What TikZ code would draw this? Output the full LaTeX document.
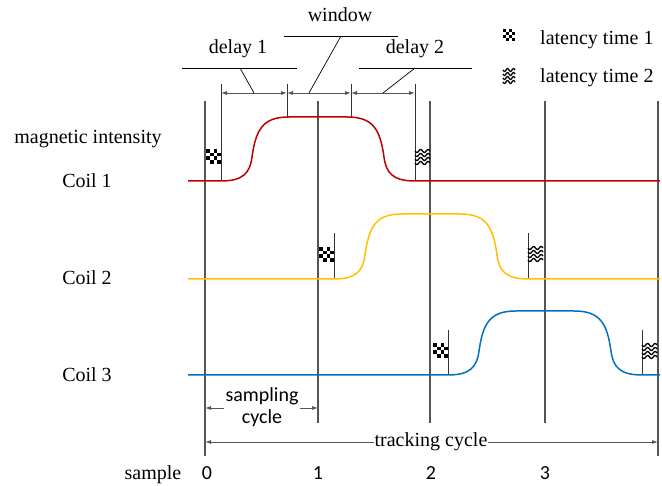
\documentclass[tikz,border=0pt]{standalone}
\usepackage{fontspec}
\setmainfont{Liberation Serif}
\newfontfamily\numfont{Carlito}
\usetikzlibrary{arrows.meta}

\definecolor{coilred}{HTML}{C00000}
\definecolor{coilyellow}{HTML}{FFC000}
\definecolor{coilblue}{HTML}{0070C0}
\definecolor{guide}{HTML}{555555}

% one excitation pulse of a coil: colour, rise start, fall end, base level, top level
\newcommand\coilpulse[5]{%
  \draw[#1, line width=1.5pt]
    (188,#4) -- (#2,#4)
    .. controls (#2+22,#4) and (#2+29,#4-8) .. (#2+31,#4-24)
    .. controls (#2+35,#5+12) and (#2+42,#5) .. (#2+68,#5)
    -- (#3-68,#5)
    .. controls (#3-42,#5) and (#3-35,#5+12) .. (#3-31,#4-24)
    .. controls (#3-29,#4-8) and (#3-22,#4) .. (#3,#4)
    -- (660,#4);
}

\tikzset{
  lbl/.style={inner sep=0pt, anchor=base},
  numlbl/.style={lbl, font=\numfont\fontsize{20}{24}\selectfont},
  tick/.style={guide, line width=1.2pt},
  latline/.style={black!80, line width=0.8pt},
  lead/.style={black, line width=0.7pt},
  dimarrow/.style={guide, line width=0.9pt, {Latex[length=6pt,width=4pt]}-{Latex[length=6pt,width=4pt]}},
  halfarrow/.style={guide, line width=0.9pt, -{Latex[length=6pt,width=4pt]}},
  pics/checker/.style={code={
    \foreach \a/\b in {0/0,2/0,1/1,3/1,0/2,2/2,1/3,3/3}
      \fill[black] (\a*3.75,\b*3.75) rectangle ++(3.75,3.75);
  }},
  pics/waves/.style={code={
    \foreach \k in {0,...,3}
      \draw[black, line width=1.3pt]
        plot[domain=0:15, samples=31, smooth] (\x,{2+\k*4+1.5*sin(\x*48)});
  }},
}

\begin{document}
\begin{tikzpicture}[x=1pt, y=-1pt, font=\fontsize{20}{24}\selectfont]
\useasboundingbox (0,0) rectangle (662,486);

% sample instants
\foreach \n/\x/\yb in {s0/205/456, s1/318/423, s2/430/423, s3/545/423, s4/658/456}{
  \coordinate (\n top) at (\x,101);
  \coordinate (\n bot) at (\x,\yb);
  \draw[tick] (\n top) -- (\n bot);
}

% latency and window markers
\foreach \n/\x/\ya/\yb in {m1/221/84/181, m2/287/84/117, m3/351/84/117, m4/415/84/181,
                           m5/334/233/279, m6/528/233/279, m7/448/330/375, m8/642/330/375}{
  \coordinate (\n a) at (\x,\ya);
  \coordinate (\n b) at (\x,\yb);
  \draw[latline] (\n a) -- (\n b);
}

% coil excitation pulses
\coilpulse{coilred}{221}{415}{181}{117}
\coilpulse{coilyellow}{334}{528}{279}{214}
\coilpulse{coilblue}{448}{642}{375}{311}

% latency symbols
\pic at (206,149) {checker};
\pic at (415,149) {waves};
\pic at (319,247) {checker};
\pic at (528,246) {waves};
\pic at (433,343) {checker};
\pic at (642,343) {waves};

% legend
\pic[scale=0.8] at (503,29) {checker};
\pic[xscale=0.8] at (503,68) {waves};
\node[lbl, anchor=base west] (lt1) at (540,45) {latency time 1};
\node[lbl, anchor=base west] (lt2) at (540,83) {latency time 2};

% delay / window dimensions
\coordinate (p1) at (221,93);
\coordinate (p2) at (287,93);
\coordinate (p3) at (351,93);
\coordinate (p4) at (415,93);
\draw[dimarrow] (p1) -- (p2);
\draw[dimarrow] (p2) -- (p3);
\draw[dimarrow] (p3) -- (p4);

\node[lbl] (win) at (340,22) {window};
\node[lbl] (d1) at (238,54) {delay 1};
\node[lbl] (d2) at (415,54) {delay 2};

\coordinate (wl) at (284,36);  \coordinate (wr) at (398,36);  \coordinate (wk) at (341,36);
\coordinate (al) at (182,68);  \coordinate (ar) at (297,68);  \coordinate (ak) at (240,68);
\coordinate (bl) at (359,68);  \coordinate (br) at (472,68);  \coordinate (bk) at (415,68);
\coordinate (wt) at (309,93);  \coordinate (at) at (254,93);  \coordinate (bt) at (383,93);
\draw[lead] (wl) -- (wr);  \draw[lead] (wk) -- (wt);
\draw[lead] (al) -- (ar);  \draw[lead] (ak) -- (at);
\draw[lead] (bl) -- (br);  \draw[lead] (bk) -- (bt);

% axis labels
\node[lbl] (mi) at (88,144) {magnetic intensity};
\node[lbl] (c1) at (87,188) {Coil 1};
\node[lbl] (c2) at (87,285) {Coil 2};
\node[lbl] (c3) at (87,382) {Coil 3};

% sampling cycle
\coordinate (sa) at (205,408);
\coordinate (sb) at (318,408);
\node[numlbl] (samp) at (262,402) {sampling};
\node[numlbl] (scyc) at (262,424) {cycle};
\draw[halfarrow] ([xshift=-1pt]samp.west |- sa) -- (sa);
\draw[halfarrow] ([xshift=1pt]samp.east |- sb) -- (sb);

% tracking cycle
\coordinate (ta) at (205,442);
\coordinate (tb) at (658,442);
\node[lbl] (trk) at (431,447) {tracking cycle};
\draw[halfarrow] (trk.west |- ta) -- (ta);
\draw[halfarrow] (trk.east |- tb) -- (tb);

% sample numbers
\node[lbl] (smp) at (153,480) {sample};
\node[numlbl] (n0) at (207,480) {0};
\node[numlbl] (n1) at (318,480) {1};
\node[numlbl] (n2) at (431,480) {2};
\node[numlbl] (n3) at (545,480) {3};
\end{tikzpicture}
\end{document}
